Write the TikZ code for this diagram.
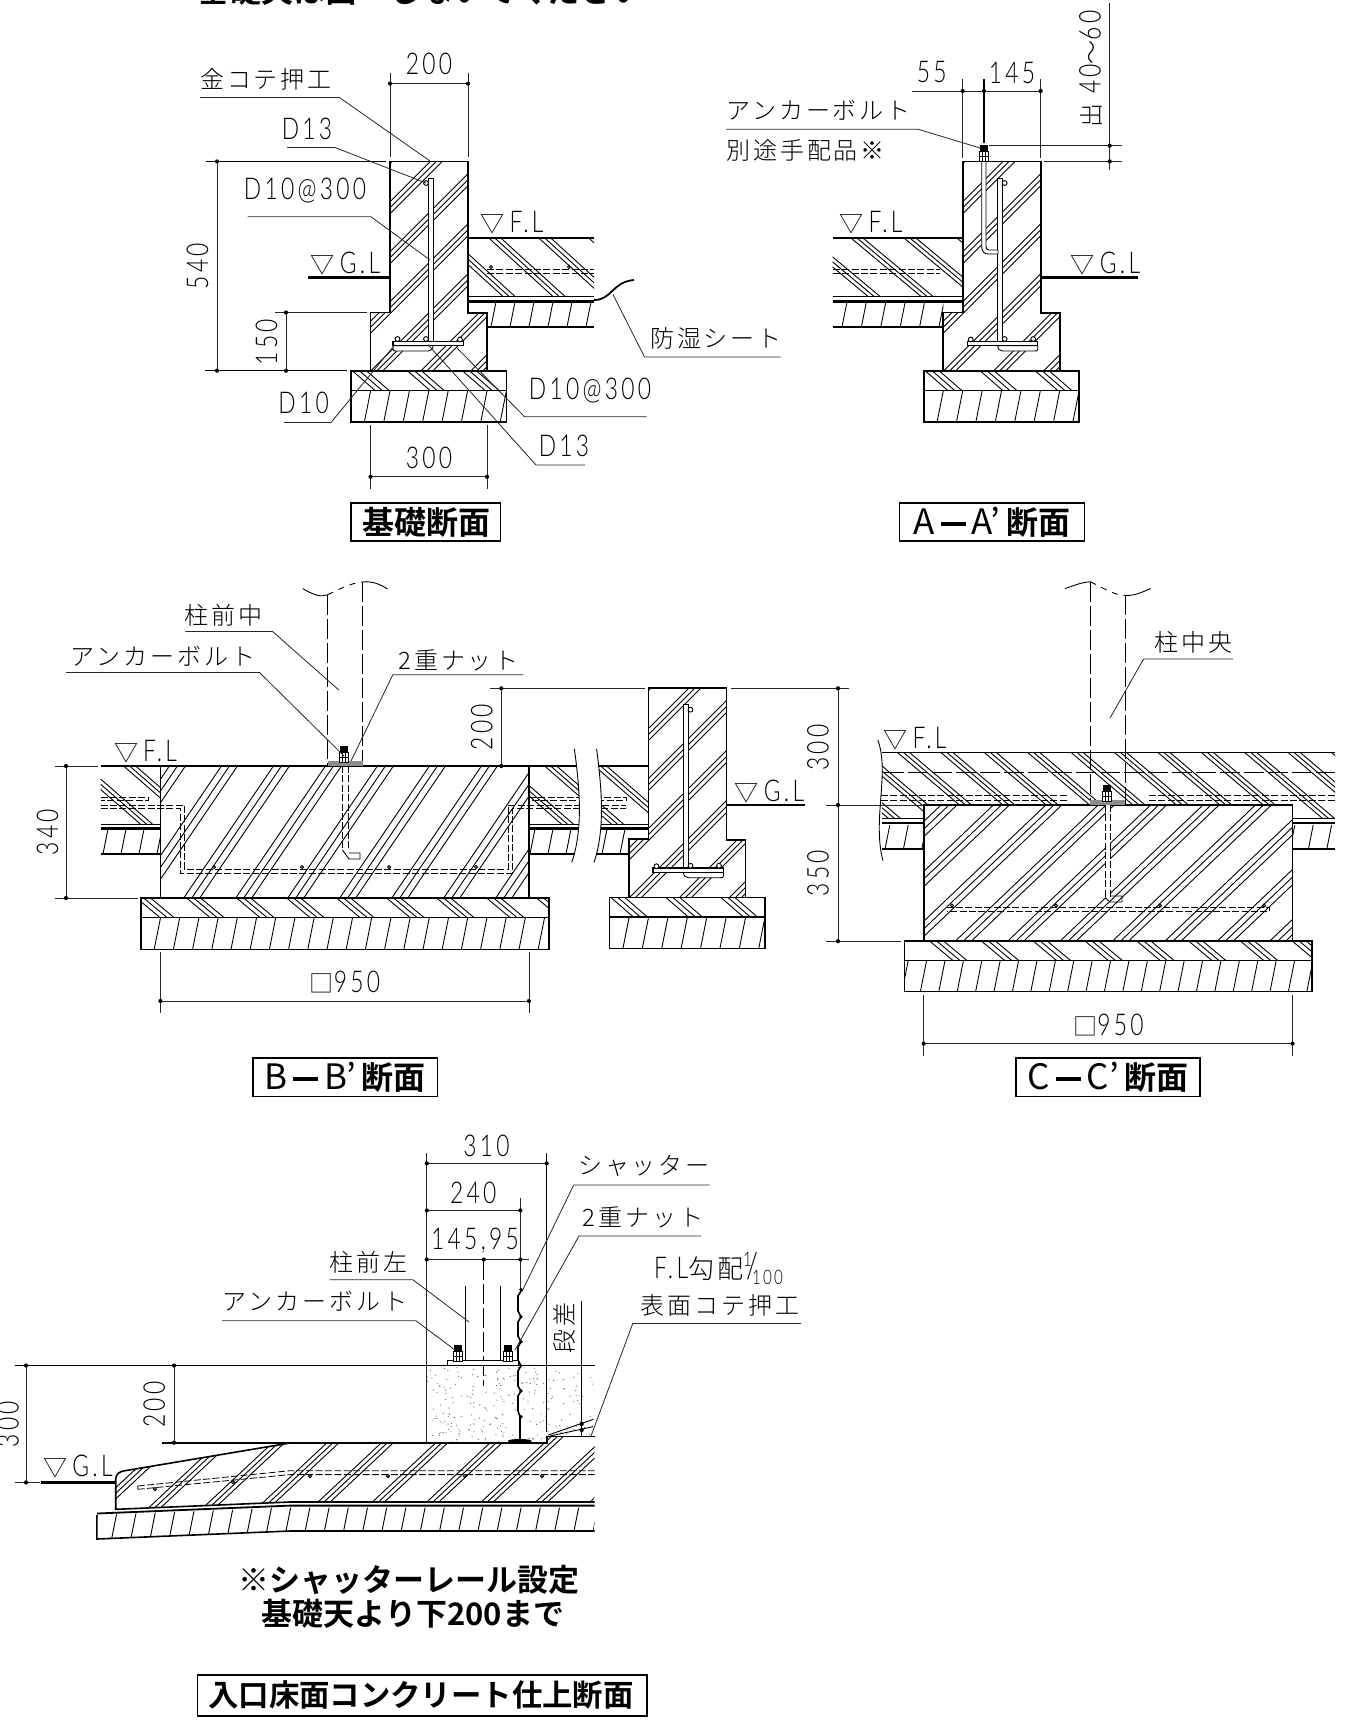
\documentclass[tikz,border=0pt]{standalone}
\usepackage{fontspec}
\setmainfont{Noto Sans CJK JP}
\newfontfamily\jpf[LetterSpace=12]{Noto Sans CJK JP Light}
\newfontfamily\tbf[BoldFont={Noto Sans CJK JP Bold}]{Noto Sans CJK JP}
\newfontfamily\ltf[FakeStretch=0.76,LetterSpace=11]{Lato Light}
\newcommand\JP{\jpf\fontsize{12}{14}\selectfont}
\newcommand\LT{\ltf\fontsize{15}{18}\selectfont}
\newcommand\TB{\tbf\bfseries\fontsize{16}{19}\selectfont}
\newcommand\RG{\tbf\mdseries\fontsize{17.5}{19}\selectfont}
\newcommand\Tdash{\hspace{3pt}\rule[4pt]{12.5pt}{1.9pt}\hspace{3pt}}
\tikzset{
 jpn/.style={font=\JP,inner sep=0pt},
 ltn/.style={font=\LT,inner sep=0pt},
 ttl/.style={font=\TB,inner sep=0pt},
 ol/.style={line width=.8pt},
 hl/.style={line width=.45pt},
 dm/.style={line width=.4pt,black!85},
 hv/.style={line width=1.2pt},
 dsh/.style={line width=.4pt,dash pattern=on 3.5pt off 1.2pt},
 lng/.style={line width=.5pt,dash pattern=on 10pt off 2pt},
}
% clip, ytop, ybot, base start at ybot, step, last index, slant, offsets
\newcommand\Hh[8]{\begin{scope}\clip #1;\foreach \k in {0,...,#6}{\foreach \o in {#8}{\draw[hl] ({#4+\k*#5+\o},#3) -- ({#4+\k*#5+\o+(#7)*(#3-#2)},#2);}}\end{scope}}
\newcommand\Dotm[2]{\fill (#1,#2) circle[radius=2.1];}
\newcommand\Ring[2]{\draw[hl,fill=white] (#1,#2) circle[radius=2.4];}
\newcommand\Bolt[2]{%
 \fill (#1-4,#2-16) rectangle (#1+4,#2-10);
 \draw[hl,fill=white] (#1-4.5,#2-9.5) rectangle (#1+4.5,#2-5);
 \draw[hl,fill=white] (#1-4.5,#2-5) rectangle (#1+4.5,#2);
 \draw[hl] (#1-1.5,#2-10) -- (#1-1.5,#2) (#1+1.5,#2-10) -- (#1+1.5,#2);}
\newcommand\Wall{%
 \Hh{(390,161.4) -- (468,161.4) -- (468,313) -- (487,313) -- (487,370.7) -- (370.5,370.7) -- (370.5,312.5) -- (390,312.5) -- cycle}{161.4}{370.7}{171}{50}{7}{1}{0,6,12}
 \Hh{(351,370.7) rectangle (506.5,390.4)}{370.7}{390.4}{320}{55}{4}{-1.15}{0,7,14}
 \Hh{(351,390.4) rectangle (506.5,421.8)}{390.4}{421.8}{345}{19.4}{8}{.2}{0}
 \draw[ol] (390,312.5) -- (390,161.4) -- (468,161.4) -- (468,313) -- (487,313) -- (487,370.7) -- (370.5,370.7) -- (370.5,312.5) -- cycle;
 \draw[ol] (351,370.7) rectangle (506.5,421.8);
 \draw[ol] (351,390.4) -- (506.5,390.4);}
\newcommand\Bars{%
 \draw[hl,fill=white] (428,178) rectangle (433,345);
 \draw[hl,fill=white] (393,345.7) -- (393,349) .. controls (393,351) and (394,351) .. (396,351) -- (428,351) .. controls (431,351) and (433,349) .. (433,345.7) -- cycle;
 \draw[ol,line width=.6pt,fill=white] (393,341.3) rectangle (463.5,345.7);
 \Ring{397.5}{339}\Ring{426}{339}\Ring{460}{339.5}\Ring{426}{183}}
\begin{document}
\begin{tikzpicture}[x=0.5pt,y=-0.5pt,line cap=butt]
\useasboundingbox (0,0) rectangle (1367,1731);
\clip (0,0) rectangle (1367,1731);
\fill[white] (0,0) rectangle (1367,1731);
\node[ttl] (toptext) at (421,-10) {基礎天は面一しないでください};

%% ---------- section 1
\Hh{(468,238) rectangle (594,296.4)}{238}{296.4}{453}{50}{4}{-1.1}{0,6,12}
\draw[ol] (468,238) -- (594,238);
\draw[dsh] (487,269.6) -- (594,269.6) (487,273) -- (594,273);
\draw[hl] (468,296.4) -- (594,296.4);
\draw[hv] (468,301.5) -- (594,301.5);
\Hh{(487,303) rectangle (594,326.8)}{303}{326.8}{472}{19}{7}{.2}{0}
\draw[ol] (487,326.8) -- (594,326.8);
\draw[line width=.9pt] (594,300) .. controls (612,300) and (612,282) .. (634,280);
\Wall\Bars
\draw[hl] (491,267) circle[radius=1.6];
\draw[hl] (569,267) circle[radius=1.6];
\draw[hv] (308,277.5) -- (390,277.5);
\node[ltn] (s1gl) at (345.5,264) {{\JP ▽}\,G.L};
\node[ltn] (s1fl) at (512,223) {{\JP ▽}\,F.L};
\draw[dm] (390,83.6) -- (468,83.6) (390,72.5) -- (390,157) (468,72.5) -- (468,157);
\Dotm{390}{83.6}\Dotm{468}{83.6}
\node[ltn] (d200a) at (429,64) {200};
\draw[dm] (217,161.4) -- (217,370.7);
\draw[line width=.6pt] (205.5,161.4) -- (386,161.4) (205,370.7) -- (347,370.7);
\Dotm{217}{161.4}\Dotm{217}{370.7}
\node[ltn,rotate=90] (d540) at (197.6,266) {540};
\draw[dm] (286,312.5) -- (286,370.7) (275,312.5) -- (367,312.5);
\Dotm{286}{312.5}\Dotm{286}{370.7}
\node[ltn,rotate=90] (d150) at (266.6,342) {150};
\draw[dm] (370.5,476.8) -- (487,476.8) (370.5,425) -- (370.5,488.6) (487,425) -- (487,488.6);
\Dotm{370.5}{476.8}\Dotm{487}{476.8}
\node[ltn] (d300a) at (429,458) {300};
\node[jpn] (l1) at (266,79) {金コテ押工};
\draw[dm] (200,97.5) -- (339.4,97.5) -- (430,161);
\node[ltn] (l2) at (307,128.6) {D13};
\draw[dm] (287,147.5) -- (335,147.5) -- (426,183);
\node[ltn] (l3) at (305,191) {D10@300};
\draw[dm] (247.6,216.8) -- (371,216.8) -- (430,260);
\node[jpn] (l4) at (716,338.6) {防湿シート};
\draw[dm] (780.5,357) -- (644.5,357) -- (613,294.6);
\node[ltn] (l5) at (590,391) {D10@300};
\draw[dm] (646.6,416.8) -- (524.6,416.8) -- (457,348);
\node[ltn] (l6) at (564,446) {D13};
\draw[dm] (585,465) -- (536,465) -- (428,344.6);
\node[ltn] (l7) at (303.6,403) {D10};
\draw[dm] (284,422.5) -- (331,422.5) -- (395,344.6);
\draw[line width=.6pt] (351,503) rectangle (500.6,541);
\node[ttl] (t1) at (426,522) {基礎断面};

%% ---------- section A-A'
\Hh{(832.7,238) rectangle (962.7,296.4)}{238}{296.4}{868}{53}{3}{-1.2}{0,6,12}
\draw[ol] (832.7,238) -- (962.7,238);
\draw[dsh] (832.7,269.6) -- (940,269.6) (832.7,273) -- (940,273);
\draw[hl] (832.7,296.4) -- (962.7,296.4);
\draw[hv] (832.7,301.5) -- (962.7,301.5);
\Hh{(832.7,303) rectangle (943.3,326.8)}{303}{326.8}{842}{19.4}{6}{.2}{0}
\draw[ol] (832.7,326.8) -- (943.3,326.8);
\begin{scope}[shift={(572.7,0)}]\Wall\end{scope}
\begin{scope}[shift={(1430.7,0)},xscale=-1]\Bars\end{scope}
\draw[hl,fill=white] (981.7,161.4) -- (981.7,246) .. controls (981.7,252) and (984,254) .. (989,254) -- (998,254) -- (998,250) -- (989,250) .. controls (987,250) and (986,249) .. (986,246) -- (986,161.4) -- cycle;
\Bolt{984}{161}
\draw[hv] (1040.7,277.5) -- (1138,277.5);
\node[ltn] (s2gl) at (1105.5,264) {{\JP ▽}\,G.L};
\node[ltn] (s2fl) at (871,223) {{\JP ▽}\,F.L};
\draw[dm] (911.7,91) -- (1040.7,91) (962.7,79.3) -- (962.7,157.9) (1040.7,79.3) -- (1040.7,157.9);
\draw[line width=.6pt] (984,79.3) -- (984,143);
\Dotm{962.7}{91}\Dotm{984}{91}\Dotm{1040.7}{91}
\node[ltn] (d55) at (931.7,72.5) {55};
\node[ltn] (d145) at (1012,72.5) {145};
\draw[dm] (1109.7,3) -- (1109.7,170) (989,145.7) -- (1121.7,145.7) (1044,161.4) -- (1121.7,161.4);
\Dotm{1109.7}{145.7}\Dotm{1109.7}{161.4}
\node[ltn,rotate=90] (d4060) at (1090.7,69) {{\JP 出}\,\,40\raisebox{0pt}{\JP ～}60};
\node[jpn,anchor=west] (l8) at (726,110.7) {アンカーボルト};
\draw[dm] (726,129.3) -- (918.3,129.3) -- (980,148);
\node[jpn,anchor=west] (l9) at (726,150.7) {別途手配品※};
\draw[line width=.6pt] (899.3,503) rectangle (1084.3,541);
\node[ttl] (t2) at (992,522) {{\RG A\Tdash A’\,}断面};

%% ---------- section B-B'
\Hh{(100.6,766) rectangle (160.4,824.6)}{766}{824.6}{141}{50}{2}{-1.15}{0,6,12}
\Hh{(529,766) rectangle (648.5,824.6)}{766}{824.6}{512}{50}{3}{-1.15}{0,6,12}
\draw[dsh] (100.6,797) -- (148,797) -- (148,800.6) -- (100.6,800.6);
\draw[dsh] (529,797) -- (626,797) -- (626,800.6) -- (529,800.6);
\draw[hl] (100.6,824.6) -- (160.4,824.6) (529,824.6) -- (648.5,824.6);
\draw[hv] (100.6,828.5) -- (160.4,828.5) (529,828.5) -- (648.5,828.5);
\Hh{(100.6,830) rectangle (160.4,854)}{830}{854}{103}{18}{3}{.2}{0}
\Hh{(529,830) rectangle (630,854)}{830}{854}{530}{18}{6}{.2}{0}
\draw[ol] (100.6,854) -- (160.4,854) (529,854) -- (630,854);
\draw[ol] (100.6,766) -- (648.5,766);
\Hh{(160.4,766) rectangle (528.9,898)}{766}{898}{79.7}{52}{9}{.68}{0,8,16}
\Hh{(140.8,898) rectangle (549,917.5)}{898}{917.5}{110}{50}{9}{-1.2}{0,7,14}
\Hh{(140.8,917.5) rectangle (549,949.3)}{917.5}{949.3}{135}{19.2}{22}{.2}{0}
\draw[dsh] (100.6,805) -- (184.2,805) -- (184.2,869) -- (508,869) -- (508,805) -- (626,805);
\draw[dsh] (100.6,808.5) -- (180,808.5) -- (180,873) -- (512.4,873) -- (512.4,808.5) -- (626,808.5);
\draw[ol] (160.4,766) -- (160.4,898) -- (528.9,898) -- (528.9,766);
\draw[ol] (140.8,898) rectangle (549,949.3) (140.8,917.5) -- (549,917.5);
\fill[white] (574.4,749) .. controls (580,790) and (583,830) .. (571.7,862.4) -- (594,862.4) .. controls (605,830) and (602,790) .. (596.6,749) -- cycle;
\draw[hl] (574.4,749) .. controls (580,790) and (583,830) .. (571.7,862.4);
\draw[hl] (596.6,749) .. controls (602,790) and (605,830) .. (594,862.4);
\begin{scope}[shift={(258.5,526.7)}]\Wall\end{scope}
\begin{scope}[shift={(1116.5,526.7)},xscale=-1]\Bars\end{scope}
\draw[dsh] (342.5,766) -- (342.5,850) (348.3,766) -- (348.3,850);
\draw[hl] (342.5,850) -- (349,859) -- (360,859) -- (360,853) -- (349,853);
\foreach \cx in {214,302,389,476} {\draw[hl] (\cx,867) circle[radius=1.6];}
\draw[lng] (327.7,594.7) -- (327.7,766) (362.6,582) -- (362.6,766);
\draw[hl] (302.8,588.6) .. controls (315,596) and (322,597) .. (327.7,594.7);
\draw[hl,dashed] (327.7,594.7) .. controls (338,590) and (350,583) .. (362.6,582);
\draw[hl] (362.6,582) .. controls (372,581) and (380,584) .. (387.5,589);
\fill[black!45] (327.7,761) rectangle (362.6,766);
\Bolt{344}{762}
\draw[hv] (726.3,805) -- (804.7,805);
\node[ltn] (s3gl) at (769.5,792) {{\JP ▽}\,G.L};
\node[ltn] (s3fl) at (145.5,752) {{\JP ▽}\,F.L};
\draw[dm] (66,766) -- (66,898) (54.5,766) -- (98,766) (54.5,898) -- (137.6,898);
\Dotm{66}{766}\Dotm{66}{898}
\node[ltn,rotate=90] (d340) at (47.6,832) {340};
\draw[dm] (501.3,688.3) -- (501.3,766) (489.7,688.3) -- (644.8,688.3);
\Dotm{501.3}{688.3}\Dotm{501.3}{766}
\node[ltn,rotate=90] (d200b) at (481.7,727) {200};
\draw[dm] (160.4,1001) -- (528.9,1001) (160.4,952) -- (160.4,1012.9) (528.9,952) -- (528.9,1012.9);
\Dotm{160.4}{1001}\Dotm{528.9}{1001}
\node[ltn] (d950a) at (345,981.8) {{\JP □}950};
\node[jpn] (l10) at (223.4,615.6) {柱前中};
\draw[dm] (185.3,631.5) -- (272.6,631.5) -- (338.8,690);
\node[jpn] (l11) at (163,656) {アンカーボルト};
\draw[dm] (66,672.4) -- (259.4,672.4) -- (344,756);
\node[jpn] (l12) at (458.7,660) {2重ナット};
\draw[dm] (523,674.8) -- (392.8,674.8) -- (351,761);
\draw[line width=.6pt] (253,1058) rectangle (437.3,1096.7);
\node[ttl] (t3) at (345,1077) {{\RG B\Tdash B’\,}断面};

%% ---------- section C-C'
\Hh{(882,752.6) rectangle (1335,818.5)}{752.6}{818.5}{888.6}{43.4}{12}{-1.18}{0,6,12}
\draw[ol] (882,752.6) -- (1335,752.6);
\draw[lng,line width=.4pt] (884,772) -- (1335,772);
\draw[dsh] (881,795.5) -- (1067.6,795.5) (881,800) -- (1067.6,800) (1149,795.5) -- (1335,795.5) (1149,800) -- (1335,800);
\draw[hl] (882,818.5) -- (923.7,818.5) (1292.6,818.5) -- (1335,818.5);
\draw[hv] (882,823) -- (923.7,823) (1292.6,823) -- (1335,823);
\Hh{(882,825) rectangle (923.7,849)}{825}{849}{885}{18.4}{2}{.2}{0}
\Hh{(1292.6,825) rectangle (1335,849)}{825}{849}{1290}{18.4}{2}{.2}{0}
\draw[ol] (882,849) -- (923.7,849) (1292.6,849) -- (1335,849);
\fill[white] (923.7,805) rectangle (1292.6,941.2);
\Hh{(923.7,805) rectangle (1292.6,941.2)}{805}{941.2}{798}{52.4}{9}{1.05}{0,8,16}
\Hh{(904.5,941.2) rectangle (1311.7,960.5)}{941.2}{960.5}{953}{51.8}{7}{-1.2}{0,7,14}
\Hh{(904.5,960.5) rectangle (1311.7,991.6)}{960.5}{991.6}{902}{18.4}{22}{.2}{0}
\draw[dsh] (946.5,907.4) -- (1269.4,907.4) -- (1269.4,911.4) -- (946.5,911.4);
\foreach \cx in {952,1056,1160,1264} {\draw[hl] (\cx,905.5) circle[radius=1.6];}
\draw[ol] (923.7,805) rectangle (1292.6,941.2);
\draw[ol] (904.5,941.2) rectangle (1311.7,991.6) (904.5,960.5) -- (1311.7,960.5);
\draw[hl] (877.8,740) .. controls (890,773) and (872,820) .. (883,860.7);
\fill[white] (1105.6,805) rectangle (1110.3,898);
\draw[dsh] (1105.6,805) -- (1105.6,898) (1110.3,805) -- (1110.3,898);
\draw[hl] (1105.6,898) -- (1110,902) -- (1122,902) -- (1122,896) -- (1110,896);
\draw[lng] (1090.4,581.8) -- (1090.4,804) (1125,595.4) -- (1125,804);
\draw[hl] (1065,588.6) .. controls (1075,585) and (1083,582) .. (1090.4,581.8);
\draw[hl,dashed] (1090.4,581.8) .. controls (1100,586) and (1115,596) .. (1125,595.4);
\draw[hl] (1125,595.4) .. controls (1135,596) and (1142,592) .. (1150.8,588.6);
\fill[black!45] (1090.4,800) rectangle (1125,804.5);
\Bolt{1107.4}{801}
\node[ltn] (s4fl) at (915,739) {{\JP ▽}\,F.L};
\draw[dm] (838,688.3) -- (838,941.2) (730.5,688.3) -- (848.8,688.3) (826,805) -- (923,805) (826,941.2) -- (900.5,941.2);
\Dotm{838}{688.3}\Dotm{838}{805}\Dotm{838}{941.2}
\node[ltn,rotate=90] (d300b) at (818,747.5) {300};
\node[ltn,rotate=90] (d350) at (818,873) {350};
\draw[dm] (923.7,1043.6) -- (1292.6,1043.6) (923.7,995.3) -- (923.7,1055.8) (1292.6,995.3) -- (1292.6,1055.8);
\Dotm{923.7}{1043.6}\Dotm{1292.6}{1043.6}
\node[ltn] (d950b) at (1108.5,1024.7) {{\JP □}950};
\node[jpn] (l13) at (1193.5,642) {柱中央};
\draw[dm] (1233,659) -- (1143.6,659) -- (1110,718);
\draw[line width=.6pt] (1016,1058) rectangle (1200,1096.7);
\node[ttl] (t4) at (1108,1077) {{\RG C\Tdash C’\,}断面};

%% ---------- entrance section
\begin{scope}
\clip (426.8,1365.5) rectangle (594.7,1442.7);
\pgfmathsetseed{7}
\foreach \i in {1,...,240}{\pgfmathsetmacro\aa{427+168*rnd}\pgfmathsetmacro\bb{1367+75*rnd}\fill[black!60] (\aa,\bb) circle[radius=.6];}
\end{scope}
\fill[white] (547,1436.5) rectangle (595,1444);
\Hh{(115.7,1509.3) -- (115.7,1480) .. controls (115.7,1474) and (119,1471.5) .. (125,1470.7) -- (290,1443) -- (426.8,1442.7) -- (546.7,1442.7) -- (546.7,1436.5) -- (594.7,1436.5) -- (594.7,1502) -- (290,1502) -- cycle}{1436}{1509.3}{92.6}{54.4}{9}{1.07}{0,6,12}
\draw[dsh] (137.7,1486) -- (290,1470.7) -- (594.7,1470.7) (137.7,1489.3) -- (290,1474.6) -- (594.7,1474.6) (137.7,1486) -- (137.7,1489.3);
\foreach \cx/\cy in {155/1489,233/1482,310/1476,388/1476,465/1476,542/1476} {\draw[hl] (\cx,\cy) circle[radius=1.6];}
\draw[ol] (290,1443) -- (125,1470.7) .. controls (119,1471.5) and (115.7,1474) .. (115.7,1480) -- (115.7,1509.3) -- (290,1502) -- (594.7,1502);
\draw[line width=.9pt] (96.8,1513.5) -- (290,1505.6) -- (594.7,1505.6);
\begin{scope}
\clip (96.8,1515) -- (290,1507.5) -- (594.7,1507.5) -- (594.7,1531) -- (290,1531) -- (96.8,1539) -- cycle;
\foreach \k in {0,...,26}{\draw[hl] ({92+\k*19.2},1541) -- ({92+\k*19.2+7.4},1504);}
\end{scope}
\draw[ol] (96.8,1515) -- (96.8,1539) -- (290,1531) -- (594.7,1531);
\draw[line width=.6pt] (14.6,1365.5) -- (594.7,1365.5);
\draw[ol] (162,1442.7) -- (546.7,1442.7) -- (546.7,1436.5) -- (594.7,1436.5);
\draw[dm] (426.8,1153) -- (426.8,1442.7);
\draw[line width=.6pt] (546.7,1153) -- (546.7,1432) (581.7,1301) -- (581.7,1436);
\Dotm{581.7}{1424}\Dotm{581.7}{1430}
\draw[hl] (548.3,1435) -- (593.3,1419.3) (550,1436) -- (593,1426.7);
\draw[dm] (426.8,1163.3) -- (546.7,1163.3); \Dotm{426.8}{1163.3}\Dotm{546.7}{1163.3}
\node[ltn] (d310) at (486.4,1146) {310};
\draw[dm] (426.8,1210.4) -- (520.4,1210.4) (520.4,1198) -- (520.4,1288); \Dotm{426.8}{1210.4}\Dotm{520.4}{1210.4}
\node[ltn] (d240) at (473.3,1193) {240};
\draw[dm] (426.8,1259.5) -- (529,1259.5); \Dotm{426.8}{1259.5}\Dotm{483.8}{1259.5}\Dotm{520.4}{1259.5}
\node[ltn] (d14595) at (475,1240.8) {145,95};
\draw[lng,line width=.6pt] (483.5,1259.5) -- (483.5,1386);
\draw[line width=.6pt] (465.7,1285.6) -- (465.7,1360.7) (500.7,1285.6) -- (500.7,1360.7);
\draw[hl,fill=white] (447.3,1360.7) rectangle (518.3,1365.4);
\Bolt{457.7}{1361}\Bolt{507.7}{1361}
\draw[line width=.8pt] (522,1289.5) -- (518,1296) -- (518,1311) -- (521,1316.8) -- (518,1322) -- (518,1336) -- (521,1341.7) -- (518,1347) -- (518,1360) -- (521,1365.7) -- (518,1371) -- (518,1386) -- (521,1391) -- (518,1396) -- (518,1411) -- (520,1416.7) -- (520,1441);
\foreach \by in {1289.5,1316.8,1341.7,1391,1416.7} {\fill (521,\by) circle[radius=1.8];}
\fill (519.8,1441) ellipse[x radius=12,y radius=2];
\draw[hv] (40.8,1482.4) -- (115.6,1482.4);
\node[ltn] (s5gl) at (78,1466.8) {{\JP ▽}\,G.L};
\draw[dm] (26,1365.5) -- (26,1482.4) (14.6,1482.4) -- (40,1482.4); \Dotm{26}{1365.5}\Dotm{26}{1482.4}
\node[ltn,rotate=90] (d300c) at (8,1424) {300};
\draw[dm] (174,1365.5) -- (174,1442.7); \Dotm{174}{1365.5}\Dotm{174}{1442.7}
\node[ltn,rotate=90] (d200c) at (154.3,1404.5) {200};
\node[jpn] (l14) at (644,1166) {シャッター};
\draw[dm] (709.7,1185) -- (573.7,1185) -- (522,1291.5);
\node[jpn] (l15) at (643,1217.4) {2重ナット};
\draw[dm] (700.8,1236) -- (579,1236) -- (515,1350);
\node[ltn,anchor=west] (l16) at (653.8,1268) {F.L{\JP\fontsize{13}{14}\selectfont 勾配}\raisebox{6pt}{\fontsize{10}{11}\selectfont 1}\llap{\raisebox{0pt}{\fontsize{18}{18}\selectfont /\hspace{-3pt}}}\raisebox{-3pt}{\fontsize{10}{11}\selectfont 100}};
\node[jpn] (l17) at (720,1305) {表面コテ押工};
\draw[dm] (801,1323.4) -- (632.8,1323.4) -- (591,1436);
\node[jpn,rotate=90] (l18) at (564,1328) {段差};
\node[jpn] (l19) at (368.7,1262) {柱前左};
\draw[dm] (329.5,1279.8) -- (413,1279.8) -- (469,1322);
\node[jpn] (l20) at (315,1301) {アンカーボルト};
\draw[dm] (222,1320.7) -- (415.8,1320.7) -- (455,1350);
\node[ttl,font=\tbf\bfseries\fontsize{15.5}{18}\selectfont] (n1) at (409,1580) {※シャッターレール設定};
\node[ttl,font=\tbf\bfseries\fontsize{15.5}{18}\selectfont] (n2) at (413,1614) {基礎天より下200まで};
\draw[line width=.6pt] (197.7,1675) rectangle (647,1716);
\node[ttl,font=\tbf\bfseries\fontsize{15.2}{18}\selectfont] (t5) at (421,1695) {入口床面コンクリート仕上断面};
\end{tikzpicture}
\end{document}
